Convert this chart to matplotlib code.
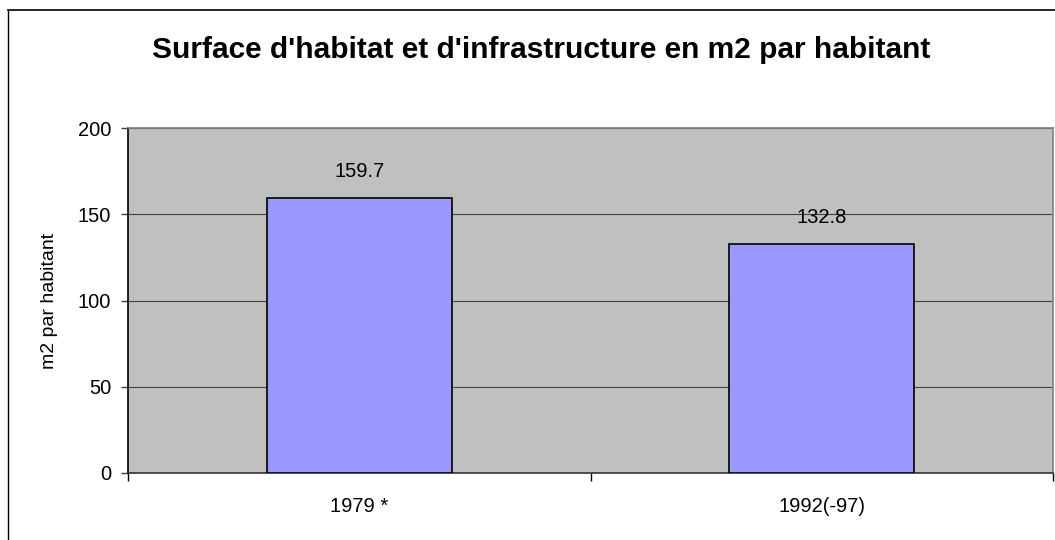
import matplotlib.pyplot as plt
from matplotlib.lines import Line2D

# Données
categories = ['1979 *', '1992(-97)']
valeurs = [159.7, 132.8]
titre = "Surface d'habitat et d'infrastructure en m2 par habitant"

plt.rcParams['font.family'] = ['Liberation Sans', 'DejaVu Sans']

fig = plt.figure(figsize=(10.55, 5.4), dpi=100)
ax = fig.add_axes([128 / 1055, 1 - 473 / 540, 925 / 1055, 345 / 540])
ax.set_facecolor('#C0C0C0')

x = list(range(len(categories)))
barres = ax.bar(x, valeurs, width=0.40, color='#9999FF', edgecolor='black',
                linewidth=1.2, zorder=3)

for xi, v in zip(x, valeurs):
    ax.annotate(f'{v:.1f}', (xi, v), xytext=(0, 19), textcoords='offset points',
                ha='center', va='center', fontsize=14.5, zorder=4)

ax.set_xlim(-0.5, len(categories) - 0.5)
ax.set_ylim(0, 200)
ax.set_yticks([0, 50, 100, 150, 200])
ax.yaxis.grid(True, color='#404040', linewidth=0.8, zorder=1)
ax.set_axisbelow(True)

# ticks de catégories aux limites, étiquettes au centre
ax.set_xticks([i - 0.5 for i in range(len(categories) + 1)])
ax.set_xticklabels([])
ax.set_xticks(x, minor=True)
ax.set_xticklabels(categories, minor=True)
ax.tick_params(axis='x', which='major', direction='out', length=6, width=1, color='black')
ax.tick_params(axis='x', which='minor', length=0, pad=17, labelsize=14.5)
ax.tick_params(axis='y', direction='out', length=5, width=1, color='#404040',
               pad=7, labelsize=14.5)

ax.spines['left'].set_color('black')
ax.spines['bottom'].set_color('#333333')
ax.spines['top'].set_color('#808080')
ax.spines['right'].set_color('#808080')
for s in ax.spines.values():
    s.set_linewidth(1.2)

ax.set_ylabel('m2 par habitant', fontsize=14)
ax.yaxis.set_label_coords(-0.0757, 0.5)

fig.text(541 / 1055, 1 - 58 / 540, titre, ha='center', va='baseline',
         fontsize=21.5, fontweight='bold')

# cadre du graphique
fig.add_artist(Line2D([7.5 / 1055, 7.5 / 1055], [0, 1 - 10 / 540], color='black',
                      linewidth=1, transform=fig.transFigure))
fig.add_artist(Line2D([7.5 / 1055, 1], [1 - 10 / 540, 1 - 10 / 540], color='black',
                      linewidth=1.2, transform=fig.transFigure))

fig.savefig('out.png', dpi=100)
